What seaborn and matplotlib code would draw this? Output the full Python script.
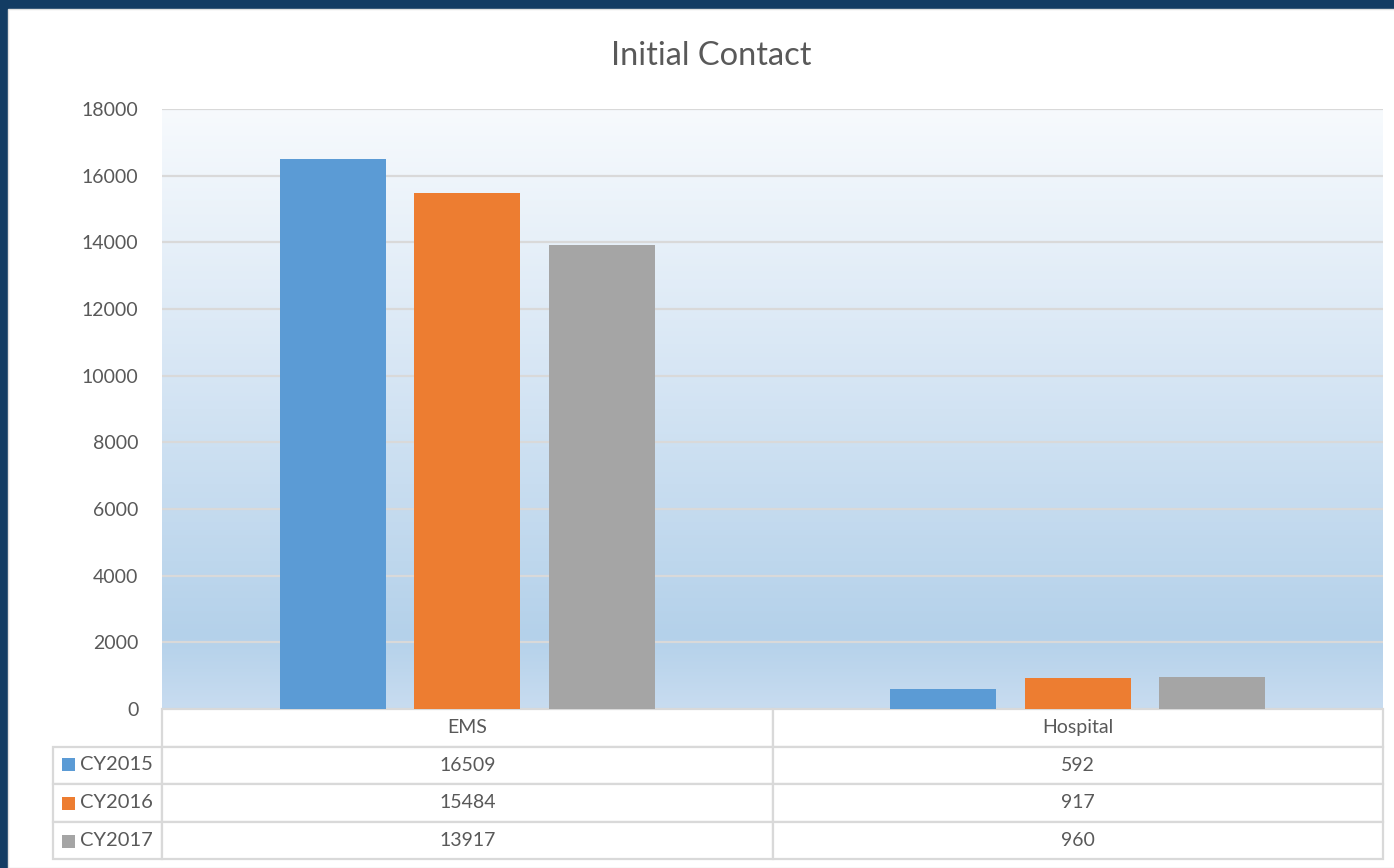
import numpy as np
import pandas as pd
import matplotlib
matplotlib.use("Agg")
import matplotlib.pyplot as plt
from matplotlib.colors import LinearSegmentedColormap
from matplotlib.patches import Rectangle
import seaborn as sns

categories = ["EMS", "Hospital"]
years = ["CY2015", "CY2016", "CY2017"]
ems = [16509, 15484, 13917]
hospital = [592, 917, 960]
colors = ["#5b9bd5", "#ed7d31", "#a5a5a5"]
yticks = [0, 2000, 4000, 6000, 8000, 10000, 12000, 14000, 16000, 18000]

df = pd.DataFrame({
    "cat": [c for c in categories for _ in years],
    "year": years * 2,
    "val": ems + hospital,
})

sns.set_theme(style="white")
plt.rcParams["font.family"] = ["Lato", "DejaVu Sans"]
txt = "#595959"
grid = "#d9d9d9"

fig = plt.figure(figsize=(13.94, 8.68), dpi=100, facecolor="#133c63")
# white chart area inside the dark frame
fig.patches.append(Rectangle((8 / 1394, 0), 1, 1 - 9 / 868, transform=fig.transFigure,
                             facecolor="white", edgecolor="#e0e0e0", lw=1, zorder=-10))

ax = fig.add_axes([162 / 1394, 1 - 709 / 868, 1221 / 1394, 600 / 868])
ax.set_zorder(5)
ax.set_facecolor("none")

# gradient plot-area fill
cmap = LinearSegmentedColormap.from_list(
    "bg", [(0, "#c8dcf0"), (0.12, "#b4d1ea"), (0.5, "#d2e3f3"), (1, "#f7fafd")])
grad = np.linspace(0, 1, 256).reshape(-1, 1)
ax.imshow(grad, cmap=cmap, aspect="auto", extent=[0, 1, 0, 1], origin="lower",
          transform=ax.transAxes, zorder=0)

sns.barplot(data=df, x="cat", y="val", hue="year", palette=colors, width=0.66, gap=0.21,
            ax=ax, legend=False, zorder=3, saturation=1, edgecolor="none", linewidth=0)

ax.set_ylim(0, 18000)
ax.set_xlim(-0.5, 1.5)
ax.set_yticks(yticks)
ax.set_yticklabels([str(t) for t in yticks], fontsize=14, color=txt)
ax.tick_params(axis="y", length=0, pad=17)
ax.set_xticks([])
ax.set_xlabel("")
ax.set_ylabel("")
for t in yticks[1:]:
    ax.axhline(t, color=grid, lw=1.6, zorder=1)
for s in ax.spines.values():
    s.set_visible(False)

# title is centred on the whole chart area, not the plot area
fig.text(711 / 1394, 1 - 56 / 868, "Initial Contact", fontsize=23.5, color=txt,
         ha="center", va="center")

# data table below the axis
cell_text = [["", categories[0], categories[1]]]
for i, y in enumerate(years):
    cell_text.append([y, str(ems[i]), str(hospital[i])])
w0, w1 = 109 / 1221, 610 / 1221
tbl = ax.table(cellText=cell_text, colWidths=[w0, w1, w1], cellLoc="center",
               bbox=[-w0, -150 / 600, 1 + w0, 150 / 600])
tbl.auto_set_font_size(False)
for (r, c), cell in tbl.get_celld().items():
    cell.set_edgecolor(grid)
    cell.set_linewidth(1.6)
    cell.set_facecolor("white")
    cell.get_text().set_color(txt)
    cell.get_text().set_fontsize(14)
    if r == 0 and c == 0:
        cell.visible_edges = ""
    if c == 0 and r > 0:
        cell.get_text().set_text("")

row_y = [-55 / 600, -94 / 600, -132 / 600]
for i, y in enumerate(years):
    ax.add_patch(Rectangle((-100 / 1221, row_y[i] - 6.5 / 600), 13 / 1221, 13 / 600,
                           transform=ax.transAxes, facecolor=colors[i], edgecolor="none",
                           clip_on=False, zorder=5))
    ax.text(-82 / 1221, row_y[i], y, transform=ax.transAxes, fontsize=14.5, color=txt,
            va="center", ha="left", zorder=5)

fig.savefig("out.png", dpi=100, facecolor=fig.get_facecolor())
